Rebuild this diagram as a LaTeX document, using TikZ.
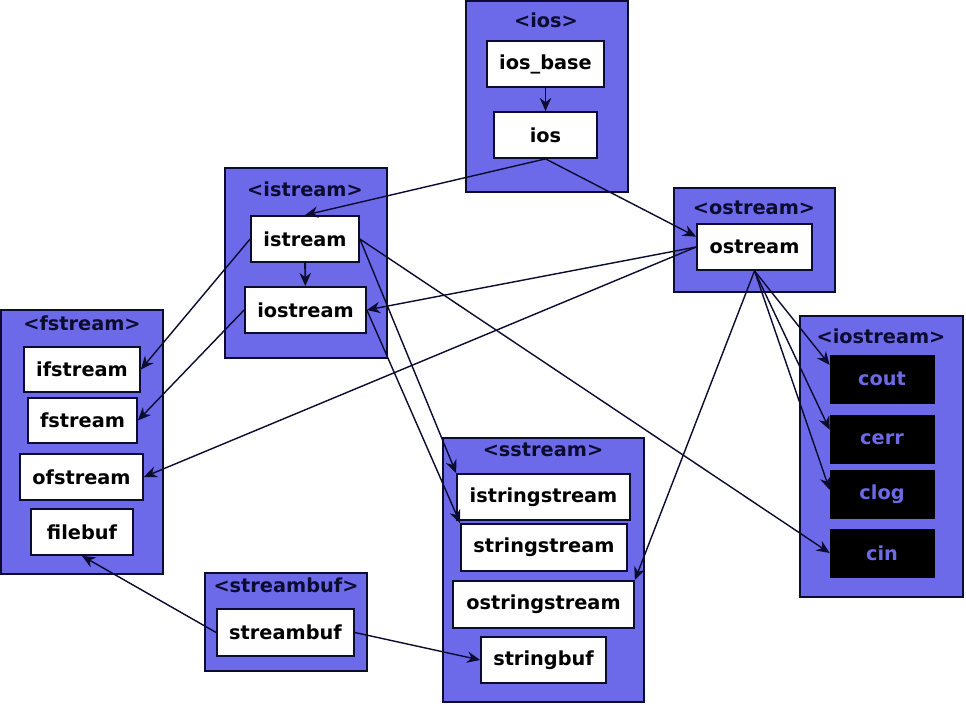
\documentclass[tikz,border=0pt]{standalone}
\usepackage{fontspec}
\setmainfont{DejaVu Sans}
\usetikzlibrary{arrows.meta}
\definecolor{lav}{RGB}{108,106,232}
\definecolor{navy}{RGB}{12,12,48}
\begin{document}
\begin{tikzpicture}[x=0.02cm, y=-0.02cm,
    every node/.style={font=\fontsize{11}{13}\selectfont\bfseries},
    grp/.style={draw=navy, line width=1.2pt, fill=lav, inner sep=0pt},
    hdr/.style={text=navy, inner sep=0pt},
    cls/.style={draw=navy, line width=1pt, fill=white, text=black, minimum height=0.92cm, inner sep=0pt},
    obj/.style={draw=black, fill=black, text=lav, minimum width=2.08cm, minimum height=0.96cm, inner sep=0pt},
    every path/.style={navy},
    >={Stealth[length=7.5pt, width=6.5pt]}]
    \useasboundingbox [fill=white] (0,0) rectangle (966,705);

    % header boxes
    \node [grp, minimum width=3.24cm, minimum height=3.82cm] (gios) at (547, 96.5) {};
    \node [grp, minimum width=3.24cm, minimum height=3.80cm] (gistream) at (306, 263) {};
    \node [grp, minimum width=3.22cm, minimum height=2.08cm] (gostream) at (754.5, 240) {};
    \node [grp, minimum width=3.24cm, minimum height=5.28cm] (gfstream) at (82, 442) {};
    \node [grp, minimum width=3.26cm, minimum height=5.62cm] (giostream) at (881.5, 456.5) {};
    \node [grp, minimum width=4.02cm, minimum height=5.28cm] (gsstream) at (543.5, 570) {};
    \node [grp, minimum width=3.24cm, minimum height=1.96cm] (gstreambuf) at (286, 622) {};

    \node [hdr] (hios) at (546, 20) {<ios>};
    \node [hdr] (histream) at (305, 189) {<istream>};
    \node [hdr] (hostream) at (754, 208) {<ostream>};
    \node [hdr] (hfstream) at (82, 323) {<fstream>};
    \node [hdr] (hiostream) at (881, 336) {<iostream>};
    \node [hdr] (hsstream) at (543, 450) {<sstream>};
    \node [hdr] (hstreambuf) at (286, 585) {<streambuf>};

    % classes
    \node [cls, minimum width=2.34cm] (iosbase) at (545.5, 64) {ios\_base};
    \node [cls, minimum width=2.06cm] (ios) at (545.5, 135) {ios};
    \node [cls, minimum width=2.16cm] (istr) at (305, 239) {istream};
    \node [cls, minimum width=2.42cm] (iostr) at (305.5, 310) {iostream};
    \node [cls, minimum width=2.30cm] (ostr) at (754.5, 247) {ostream};
    \node [cls, minimum width=2.32cm, minimum height=0.9cm] (ifstr) at (82, 369.5) {ifstream};
    \node [cls, minimum width=2.18cm, minimum height=0.9cm] (fstr) at (82.5, 420.5) {fstream};
    \node [cls, minimum width=2.46cm] (ofstr) at (81.5, 477) {ofstream};
    \node [cls, minimum width=2.04cm] (fbuf) at (82, 532) {filebuf};
    \node [cls, minimum width=3.46cm] (isstr) at (543.5, 497) {istringstream};
    \node [cls, minimum width=3.32cm, minimum height=0.94cm] (sstr) at (544, 547.5) {stringstream};
    \node [cls, minimum width=3.62cm, minimum height=0.94cm] (osstr) at (543.5, 604.5) {ostringstream};
    \node [cls, minimum width=2.50cm] (sbuf) at (543.5, 660) {stringbuf};
    \node [cls, minimum width=2.74cm, minimum height=0.94cm] (strbuf) at (285.5, 632.5) {streambuf};

    % objects
    \node [obj] (cout) at (882, 379) {cout};
    \node [obj] (cerr) at (882, 439) {cerr};
    \node [obj] (clog) at (882, 494.5) {clog};
    \node [obj] (cin) at (882, 553) {cin};

    \draw [->, line width=1.1pt] (iosbase) -- (ios);
    \draw [->, line width=0.8pt] (ios.south) -- (istr.north);
    \draw [->, line width=0.8pt] (ios.south) -- (ostr.170);
    \draw [->, line width=0.8pt] (istr.west) -- (ifstr.east);
    \draw [->, line width=1.1pt] (istr) -- (iostr);
    \draw [->, line width=0.8pt] (iostr.west) -- (fstr.east);
    \draw [->, line width=0.8pt] (ostr.west) -- (iostr.east);
    \draw [->, line width=0.8pt] (ostr.west) -- (ofstr.east);
    \draw [->, line width=0.8pt] (istr.east) -- (cin.west);
    \draw [->, line width=0.8pt] (istr.east) -- (isstr.north west);
    \draw [->, line width=0.8pt] (iostr.east) -- (sstr.north west);
    \draw [->, line width=0.8pt] (ostr.south) -- (osstr.north east);
    \draw [->, line width=0.8pt] (ostr.south) -- (cout.165);
    \draw [->, line width=0.8pt] (ostr.south) -- (cerr.170);
    \draw [->, line width=0.8pt] (ostr.south) -- (clog.175);
    \draw [->, line width=0.8pt] (strbuf.west) -- (fbuf.south);
    \draw [->, line width=0.8pt] (strbuf.east) -- (sbuf.west);
  \end{tikzpicture}
\end{document}
